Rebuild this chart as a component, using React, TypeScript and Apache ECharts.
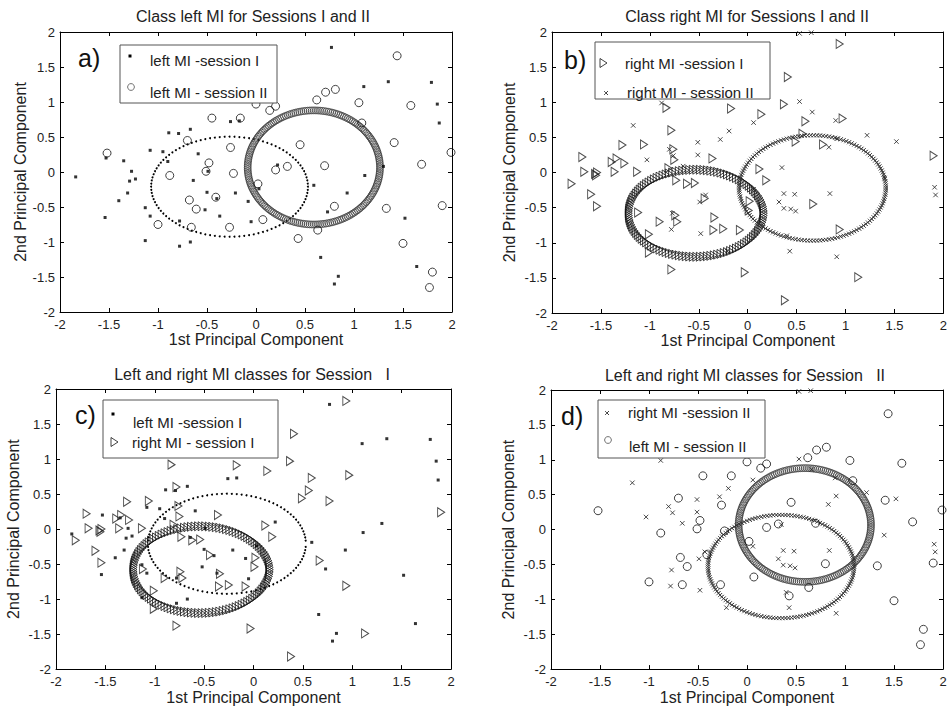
import React, { useEffect, useRef } from "react";
import * as echarts from "echarts";

// ---------- axis settings ----------
const AXIS_MIN = -2;
const AXIS_MAX = 2;
const TICK_STEP = 0.5;

// ---------- data (1st PC, 2nd PC) ----------
// left MI, session I  (dots)
const leftSession1: number[][] = [
  [-1.84, -0.07], [-1.54, -0.65], [-1.53, 0.2], [-1.35, 0.16], [-1.27, 0.01], [-1.29, -0.13],
  [-1.23, -0.1], [-1.31, -0.3], [-1.4, -0.41], [-1.13, -0.51], [-1.08, -0.63], [-1.13, -0.98],
  [-1.08, 0.31], [-0.95, 0.29], [-0.89, 0.56], [-0.79, 0.55], [-0.67, 0.61], [-0.9, 0.15],
  [-0.78, -0.7], [-0.67, -1.0], [-0.78, -1.06], [-0.64, -0.12], [-0.59, 0.26], [-0.49, 0.01],
  [-0.5, -0.29], [-0.52, -0.54], [-0.4, -0.38], [-0.37, -0.63], [-0.21, -0.3], [-0.26, 0.72],
  [-0.17, 0.73], [-0.08, -0.42], [-0.05, -0.71], [0.03, -0.24], [0.22, 0.1], [0.59, -0.19],
  [0.73, -0.57], [0.66, -1.22], [0.84, -1.49], [0.8, -1.6], [0.93, -0.3], [1.11, -0.05],
  [1.1, 1.22], [1.35, 1.29], [0.77, 1.78], [1.3, 0.08], [1.52, -0.66], [1.64, -1.35],
  [1.79, 1.28], [1.85, 0.97], [1.87, 0.7],
];
// left MI, session II (circles)
const leftSession2: number[][] = [
  [-1.52, 0.27], [-1.0, -0.75], [-0.88, -0.05], [-0.7, 0.45], [-0.68, -0.4], [-0.61, -0.53],
  [-0.66, -0.79], [-0.51, 0.01], [-0.48, 0.13], [-0.45, 0.77], [-0.41, -0.36], [-0.26, 0.35],
  [-0.23, -0.02], [-0.27, -0.79], [-0.16, 0.77], [0.0, 0.97], [0.02, -0.17], [0.14, 0.88],
  [0.2, 0.94], [0.2, 0.03], [0.32, 0.08], [0.07, -0.68], [0.45, 0.39], [0.43, -0.95],
  [0.62, 1.03], [0.63, -0.83], [0.71, 1.14], [0.7, 0.09], [0.8, -0.49], [0.81, 1.18],
  [1.05, 0.99], [1.08, 0.7], [1.33, -0.52], [1.41, 0.42], [1.44, 1.66], [1.5, -1.02],
  [1.58, 0.95], [1.69, 0.11], [1.8, -1.43], [1.77, -1.65], [1.9, -0.48], [1.99, 0.28],
];
// right MI, session I (triangles)
const rightSession1: number[][] = [
  [-1.8, -0.16], [-1.69, 0.22], [-1.67, 0.01], [-1.6, -0.31], [-1.54, -0.48], [-1.56, -0.02],
  [-1.54, 0.0], [-1.55, -0.04], [-1.39, 0.15], [-1.36, 0.01], [-1.34, 0.2], [-1.28, 0.39],
  [-1.26, 0.13], [-1.13, 0.01], [-1.06, 0.4], [-1.12, -0.57], [-1.01, -0.88], [-1.01, -1.14],
  [-0.9, -0.7], [-0.83, 0.92], [-0.78, 0.6], [-0.76, 0.33], [-0.75, 0.18], [-0.81, 0.06],
  [-0.73, -0.11], [-0.62, -0.16], [-0.54, -0.15], [-0.74, -0.61], [-0.72, -0.7], [-0.78, -1.38],
  [-0.44, -0.37], [-0.36, 0.2], [-0.34, -0.64], [-0.35, -0.82], [-0.25, -0.8], [-0.17, 0.91],
  [-0.08, -0.82], [-0.03, -1.42], [0.02, -0.41], [0.01, -0.54], [0.12, 0.05], [0.19, -0.11],
  [0.14, 0.83], [0.37, 0.97], [0.41, 1.36], [0.38, -1.82], [0.49, 0.44], [0.56, 0.55],
  [0.59, 0.73], [0.67, -0.45], [0.77, 0.4], [0.94, 1.83], [0.97, 0.77], [0.94, -0.81],
  [1.13, -1.49], [1.9, 0.24],
];
// right MI, session II (crosses)
const rightSession2: number[][] = [
  [0.53, 1.98], [0.65, 1.99], [0.53, 1.01], [0.66, 0.86], [0.9, 0.74], [1.22, 0.53],
  [1.52, 0.44], [0.83, 0.36], [0.91, 0.48], [0.06, 0.71], [-0.19, 0.59], [-0.28, 0.47],
  [-0.51, 0.43], [-0.51, 0.25], [-0.76, 0.24], [-0.8, 0.33], [-0.66, 0.09], [-1.03, 0.18],
  [-1.17, 0.67], [-0.88, 0.99], [0.35, 0.07], [0.37, -0.3], [0.48, -0.31], [0.32, -0.42],
  [0.37, -0.51], [0.44, -0.52], [0.49, -0.55], [0.84, -0.3], [0.43, -1.12], [0.91, -1.2],
  [0.06, -0.24], [-0.49, -0.42], [-0.43, -0.32], [-0.77, -0.58], [-0.78, -0.81], [-0.48, -0.87],
  [-0.21, -1.12], [1.91, -0.21], [1.92, -0.32], [0.4, -0.9], [1.4, -0.08],
];

// class ellipses: [centre x, centre y, semi-axis x, semi-axis y]
const ellipseLeft1: number[][] = [[-0.27, -0.21, 0.8, 0.715]];
const ellipseLeft2: number[][] = [[0.59, 0.065, 0.675, 0.815]];
const ellipseRight1: number[][] = [[-0.53, -0.58, 0.69, 0.62]];
const ellipseRight2b: number[][] = [[0.66, -0.22, 0.75, 0.75]];
const ellipseRight2d: number[][] = [[0.345, -0.53, 0.745, 0.74]];

// ---------- texts ----------
const panelTitles = [
  "Class left MI for Sessions I and II",
  "Class right MI for Sessions I and II",
  "Left and right MI classes for Session   I",
  "Left and right MI classes for Session   II",
];
const panelLetters = ["a)", "b)", "c)", "d)"];
const xAxisName = "1st Principal Component";
const yAxisName = "2nd Principal Component";

const FONT = "'Liberation Sans', Arial, Helvetica, sans-serif";
const TXT = "#222";

type Kind = "dot" | "circle" | "triangle" | "cross";

// ---------- layout ----------
const grids = [
  { left: 60, top: 32, width: 392, height: 280 },
  { left: 552, top: 32, width: 393, height: 281 },
  { left: 56, top: 389, width: 395, height: 282 },
  { left: 551, top: 390, width: 392, height: 282 },
];
const xNameGap = [12, 19, 14, 17];
const yNameGap = [27, 35, 35, 35];
const titlePos = [[253, 16], [747, 16], [252, 374], [745, 375]];
const letterPos = [[78, 58], [564, 60], [75, 415], [561, 416]];
const legendBox = [
  [120, 45, 157, 58],
  [595, 42, 175, 57],
  [103, 400, 175, 58],
  [598, 400, 167, 58],
];
const legendItems: { kind: Kind; label: string; mx: number; my: number; tx: number; ty: number }[][] = [
  [
    { kind: "dot", label: "left MI -session I", mx: 130, my: 56, tx: 150, ty: 60 },
    { kind: "circle", label: "left MI - session II", mx: 131, my: 87, tx: 150, ty: 92 },
  ],
  [
    { kind: "triangle", label: "right MI -session I", mx: 603, my: 63, tx: 625, ty: 63 },
    { kind: "cross", label: "right MI - session II", mx: 606, my: 93, tx: 627, ty: 92 },
  ],
  [
    { kind: "dot", label: "left MI -session I", mx: 113, my: 414, tx: 133, ty: 422 },
    { kind: "triangle", label: "right MI - session I", mx: 114, my: 442, tx: 132, ty: 442 },
  ],
  [
    { kind: "cross", label: "right MI -session II", mx: 607, my: 413, tx: 628, ty: 412 },
    { kind: "circle", label: "left MI - session II", mx: 608, my: 440, tx: 629, ty: 446 },
  ],
];

// ---------- marker drawing ----------
function marker(kind: Kind, x: number, y: number, z?: number, small?: boolean): any {
  const base: any = z !== undefined ? { z } : {};
  switch (kind) {
    case "dot":
      return small
        ? { ...base, type: "circle", shape: { cx: x, cy: y, r: 1 }, style: { fill: "#000" } }
        : { ...base, type: "rect", shape: { x: x - 1.5, y: y - 1.5, width: 3, height: 3 }, style: { fill: "#000" } };
    case "circle":
      return { ...base, type: "circle", shape: { cx: x, cy: y, r: 3.4 }, style: { fill: "none", stroke: "#333", lineWidth: 0.7 } };
    case "triangle":
      return {
        ...base,
        type: "polygon",
        shape: { points: [[x - 3, y - 4.5], [x + 4, y], [x - 3, y + 4.5]] },
        style: { fill: "none", stroke: "#111", lineWidth: 0.8 },
      };
    case "cross":
      return {
        ...base,
        type: "polyline",
        shape: { points: [[x - 2, y - 2], [x + 2, y + 2], [x, y], [x + 2, y - 2], [x - 2, y + 2]] },
        style: { fill: "none", stroke: "#333", lineWidth: 0.8 },
      };
  }
}

const ellipseCount: Record<Kind, number> = { dot: 100, circle: 200, triangle: 120, cross: 150 };

function ellipseSeries(panel: number, data: number[][], kind: Kind) {
  return {
    type: "custom",
    xAxisIndex: panel * 2,
    yAxisIndex: panel * 2,
    silent: true,
    data,
    renderItem: (_params: any, api: any) => {
      const cx = api.value(0);
      const cy = api.value(1);
      const rx = api.value(2);
      const ry = api.value(3);
      const n = ellipseCount[kind];
      const children: any[] = [];
      for (let i = 0; i < n; i++) {
        const t = (2 * Math.PI * i) / n;
        const p = api.coord([cx + rx * Math.cos(t), cy + ry * Math.sin(t)]);
        children.push(marker(kind, p[0], p[1], undefined, true));
      }
      return { type: "group", children };
    },
  };
}

function scatterSeries(panel: number, data: number[][], kind: Kind) {
  const common: any = {
    type: "scatter",
    xAxisIndex: panel * 2,
    yAxisIndex: panel * 2,
    data,
    silent: true,
  };
  if (kind === "dot") {
    return { ...common, symbol: "rect", symbolSize: 3, itemStyle: { color: "#000" } };
  }
  if (kind === "circle") {
    return {
      ...common,
      symbol: "circle",
      symbolSize: 8,
      itemStyle: { color: "rgba(0,0,0,0)", borderColor: "#111", borderWidth: 1 },
    };
  }
  if (kind === "triangle") {
    return {
      ...common,
      symbol: "path://M0,0L10,6.4L0,12.8Z",
      symbolSize: [7, 9],
      itemStyle: { color: "rgba(0,0,0,0)", borderColor: "#222", borderWidth: 1 },
    };
  }
  return {
    ...common,
    symbol: "path://M0,0L10,10M10,0L0,10",
    symbolSize: 4.5,
    itemStyle: { color: "rgba(0,0,0,0)", borderColor: "#222", borderWidth: 1 },
  };
}

function buildOption() {
  const xAxis: any[] = [];
  const yAxis: any[] = [];
  grids.forEach((_g, i) => {
    const common = {
      gridIndex: i,
      type: "value",
      min: AXIS_MIN,
      max: AXIS_MAX,
      interval: TICK_STEP,
      splitLine: { show: false },
      axisLine: { show: true, onZero: false, lineStyle: { color: "#000", width: 1 } },
      axisTick: { show: true, inside: true, length: 4, lineStyle: { color: "#000" } },
    };
    xAxis.push({
      ...common,
      position: "bottom",
      axisLabel: { fontSize: 13, color: TXT, margin: 6, fontFamily: FONT },
      name: xAxisName,
      nameLocation: "middle",
      nameGap: xNameGap[i],
      nameTextStyle: { fontSize: 16, color: TXT, fontFamily: FONT },
    });
    xAxis.push({ ...common, position: "top", axisLabel: { show: false } });
    yAxis.push({
      ...common,
      position: "left",
      axisLabel: { fontSize: 13, color: TXT, margin: 5, fontFamily: FONT },
      name: yAxisName,
      nameLocation: "middle",
      nameGap: yNameGap[i],
      nameTextStyle: { fontSize: 16, color: TXT, fontFamily: FONT },
    });
    yAxis.push({ ...common, position: "right", axisLabel: { show: false } });
  });

  const series: any[] = [
    // a
    scatterSeries(0, leftSession1, "dot"),
    scatterSeries(0, leftSession2, "circle"),
    ellipseSeries(0, ellipseLeft1, "dot"),
    ellipseSeries(0, ellipseLeft2, "circle"),
    // b
    scatterSeries(1, rightSession1, "triangle"),
    scatterSeries(1, rightSession2, "cross"),
    ellipseSeries(1, ellipseRight1, "triangle"),
    ellipseSeries(1, ellipseRight2b, "cross"),
    // c
    scatterSeries(2, leftSession1, "dot"),
    scatterSeries(2, rightSession1, "triangle"),
    ellipseSeries(2, ellipseLeft1, "dot"),
    ellipseSeries(2, ellipseRight1, "triangle"),
    // d
    scatterSeries(3, rightSession2, "cross"),
    scatterSeries(3, leftSession2, "circle"),
    ellipseSeries(3, ellipseRight2d, "cross"),
    ellipseSeries(3, ellipseLeft2, "circle"),
  ];

  const elements: any[] = [];
  grids.forEach((_g, i) => {
    elements.push({
      type: "text",
      x: titlePos[i][0],
      y: titlePos[i][1],
      z: 100,
      style: { text: panelTitles[i], fontSize: 16, fontFamily: FONT, fill: TXT, align: "center", verticalAlign: "middle" },
    });
    const [bx, by, bw, bh] = legendBox[i];
    elements.push({
      type: "rect",
      z: 100,
      shape: { x: bx, y: by, width: bw, height: bh },
      style: { fill: "#fff", stroke: "#555", lineWidth: 1 },
    });
    elements.push({
      type: "text",
      x: letterPos[i][0],
      y: letterPos[i][1],
      z: 101,
      style: { text: panelLetters[i], fontSize: 25, fontFamily: FONT, fill: "#111", align: "left", verticalAlign: "middle" },
    });
    legendItems[i].forEach((it) => {
      elements.push(marker(it.kind, it.mx, it.my, 101));
      elements.push({
        type: "text",
        x: it.tx,
        y: it.ty,
        z: 101,
        style: { text: it.label, fontSize: 15, fontFamily: FONT, fill: TXT, align: "left", verticalAlign: "middle" },
      });
    });
  });

  return {
    animation: false,
    backgroundColor: "#fff",
    textStyle: { fontFamily: FONT },
    grid: grids.map((g) => ({ ...g, containLabel: false })),
    xAxis,
    yAxis,
    series,
    graphic: { elements },
  };
}

export default function App() {
  const ref = useRef<HTMLDivElement>(null);
  useEffect(() => {
    if (!ref.current) return;
    const chart = echarts.init(ref.current, undefined, { renderer: "svg" });
    chart.setOption(buildOption() as any);
    return () => chart.dispose();
  }, []);
  return (
    <div
      ref={ref}
      style={{ position: "fixed", left: 0, top: 0, width: 950, height: 706, background: "#fff" }}
    />
  );
}
